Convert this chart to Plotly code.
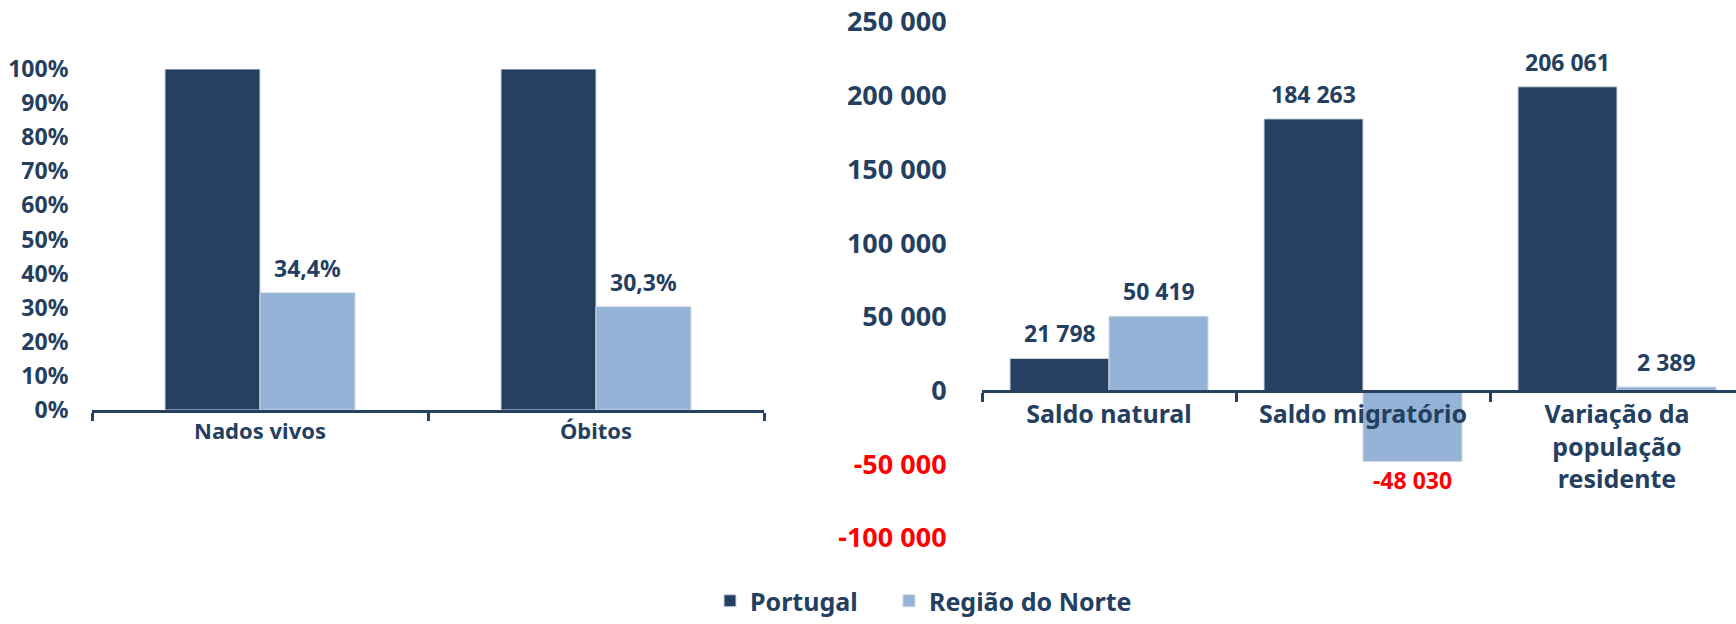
import plotly.graph_objects as go

# ---- data ----
left_categories = ["Nados vivos", "Óbitos"]
left_portugal = [1.0, 1.0]
left_norte = [0.344, 0.303]
left_norte_labels = ["34,4%", "30,3%"]

right_categories = ["Saldo natural", "Saldo migratório", "Variação da<br>população<br>residente"]
right_portugal = [21798, 184263, 206061]
right_norte = [50419, -48030, 2389]
right_portugal_labels = ["21 798", "184 263", "206 061"]
right_norte_labels = ["50 419", "-48 030", "2 389"]

right_tickvals = [-100000, -50000, 0, 50000, 100000, 150000, 200000, 250000]
right_ticktext = ["-100 000", "-50 000", "0", "50 000", "100 000", "150 000", "200 000", "250 000"]

series_names = ["Portugal", "Região do Norte"]

# ---- style ----
NAVY = "#264061"
LIGHT = "#95B3D7"
TXT = "#243F60"
RED = "#FF0000"
FONT = "Noto Sans"
EDGE = "#d0d8e2"

W, H = 1736, 624


def px_x(p):
    return p / W


def px_y(p):
    return (H - p) / H


fig = go.Figure()

# left chart
wl = 95 / 336
fig.add_trace(go.Bar(x=left_categories, y=left_portugal, name=series_names[0],
                     marker=dict(color=NAVY, line=dict(color=EDGE, width=1)),
                     width=wl, offset=-wl, xaxis="x", yaxis="y", legendgroup="p",
                     legend="legend"))
fig.add_trace(go.Bar(x=left_categories, y=left_norte, name=series_names[1],
                     marker=dict(color=LIGHT, line=dict(color=EDGE, width=1)),
                     width=wl, offset=0, xaxis="x", yaxis="y", legendgroup="n",
                     legend="legend2"))

# right chart
wr = 99 / 254
fig.add_trace(go.Bar(x=right_categories, y=right_portugal, name=series_names[0],
                     marker=dict(color=NAVY, line=dict(color=EDGE, width=1)),
                     width=wr, offset=-wr, xaxis="x2", yaxis="y2", showlegend=False,
                     legendgroup="p"))
fig.add_trace(go.Bar(x=right_categories, y=right_norte, name=series_names[1],
                     marker=dict(color=LIGHT, line=dict(color=EDGE, width=1)),
                     width=wr, offset=0, xaxis="x2", yaxis="y2", showlegend=False,
                     legendgroup="n"))

# data labels as annotations anchored at the bar ends
annotations = []
lab_font = dict(family=FONT, size=23, color=TXT, weight="bold")
for i, (v, t) in enumerate(zip(left_norte, left_norte_labels)):
    annotations.append(dict(x=i + wl / 2, y=v, xref="x", yref="y", text=t,
                            showarrow=False, yanchor="middle", yshift=25,
                            font=lab_font))
for i, (v, t) in enumerate(zip(right_portugal, right_portugal_labels)):
    annotations.append(dict(x=i - wr / 2, y=v, xref="x2", yref="y2", text=t,
                            showarrow=False, yanchor="middle", yshift=25,
                            font=lab_font))
for i, (v, t) in enumerate(zip(right_norte, right_norte_labels)):
    neg = v < 0
    annotations.append(dict(x=i + wr / 2, y=v, xref="x2", yref="y2", text=t,
                            showarrow=False, yanchor="middle",
                            yshift=-19 if neg else 25,
                            font=dict(family=FONT, size=23, color=RED if neg else TXT,
                                      weight="bold")))

zero_right = 391
right_top = 22
right_bot = 538

leg_font = dict(size=25, color=TXT, family=FONT, weight="bold")

fig.update_layout(
    width=W, height=H,
    margin=dict(l=0, r=0, t=0, b=0, autoexpand=False),
    paper_bgcolor="white", plot_bgcolor="rgba(0,0,0,0)",
    font=dict(family=FONT, color=TXT, size=22, weight="bold"),
    barmode="overlay",
    annotations=annotations,
    xaxis=dict(domain=[px_x(92), px_x(764)], anchor="y", type="category",
               range=[-0.5, 1.5], showline=True, linecolor=NAVY, linewidth=3,
               ticks="outside", tickson="boundaries", ticklen=8, tickwidth=3,
               tickcolor=NAVY, tickfont=dict(size=22, color=TXT, family=FONT, weight="bold"),
               showgrid=False, zeroline=False, automargin=False),
    yaxis=dict(domain=[px_y(410), px_y(69)], anchor="x", range=[0, 1],
               tickvals=[i / 10 for i in range(11)], tickformat=".0%",
               showgrid=False, zeroline=False, showline=False,
               ticks="outside", ticklen=18, tickcolor="rgba(0,0,0,0)",
               tickfont=dict(size=23, color=TXT, family=FONT, weight="bold"),
               automargin=False),
    xaxis2=dict(domain=[px_x(982), 1.0], anchor="free", position=px_y(zero_right),
                type="category", range=[-0.5, 2.5 - 8 / 254],
                showline=True, linecolor=NAVY, linewidth=3,
                ticks="outside", tickson="boundaries", ticklen=9, tickwidth=3,
                tickcolor=NAVY, tickfont=dict(size=25, color=TXT, family=FONT, weight="bold"),
                showgrid=False, zeroline=False, automargin=False),
    yaxis2=dict(domain=[px_y(right_bot), px_y(right_top)], anchor="x2",
                range=[-100000, 250000], tickvals=right_tickvals,
                ticktext=[f'<span style="color:{RED}">{t}</span>' if v < 0 else t
                          for v, t in zip(right_tickvals, right_ticktext)],
                showgrid=False, zeroline=False, showline=False,
                ticks="outside", ticklen=29, tickcolor="rgba(0,0,0,0)",
                tickfont=dict(size=27, color=TXT, family=FONT, weight="bold"),
                automargin=False),
    legend=dict(orientation="h", x=px_x(710), xanchor="left", y=0, yanchor="bottom",
                font=leg_font, itemwidth=30, bgcolor="rgba(0,0,0,0)",
                borderwidth=0),
    legend2=dict(orientation="h", x=px_x(889), xanchor="left", y=0, yanchor="bottom",
                 font=leg_font, itemwidth=30, bgcolor="rgba(0,0,0,0)",
                 borderwidth=0),
)

fig.write_html("out.html", config={"displayModeBar": False},
               post_script="document.body.style.margin='0px';")
